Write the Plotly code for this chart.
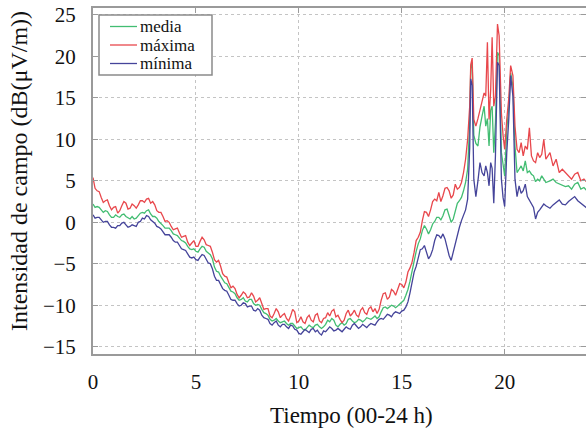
import plotly.graph_objects as go

hours = [0.0, 0.1, 0.2, 0.3, 0.4, 0.5, 0.6, 0.7, 0.8, 0.9,
         1.0, 1.1, 1.2, 1.3, 1.4, 1.5, 1.6, 1.7, 1.8, 1.9,
         2.0, 2.1, 2.2, 2.3, 2.4, 2.5, 2.6, 2.7, 2.8, 2.9,
         3.0, 3.1, 3.2, 3.3, 3.4, 3.5, 3.6, 3.7, 3.8, 3.9,
         4.0, 4.1, 4.2, 4.3, 4.4, 4.5, 4.6, 4.7, 4.8, 4.9,
         5.0, 5.1, 5.2, 5.3, 5.4, 5.5, 5.6, 5.7, 5.8, 5.9,
         6.0, 6.1, 6.2, 6.3, 6.4, 6.5, 6.6, 6.7, 6.8, 6.9,
         7.0, 7.1, 7.2, 7.3, 7.4, 7.5, 7.6, 7.7, 7.8, 7.9,
         8.0, 8.1, 8.2, 8.3, 8.4, 8.5, 8.6, 8.7, 8.8, 8.9,
         9.0, 9.1, 9.2, 9.3, 9.4, 9.5, 9.6, 9.7, 9.8, 9.9,
         10.0, 10.1, 10.2, 10.3, 10.4, 10.5, 10.6, 10.7, 10.8, 10.9,
         11.0, 11.1, 11.2, 11.3, 11.4, 11.5, 11.6, 11.7, 11.8, 11.9,
         12.0, 12.1, 12.2, 12.3, 12.4, 12.5, 12.6, 12.7, 12.8, 12.9,
         13.0, 13.1, 13.2, 13.3, 13.4, 13.5, 13.6, 13.7, 13.8, 13.9,
         14.0, 14.1, 14.2, 14.3, 14.4, 14.5, 14.6, 14.7, 14.8, 14.9,
         15.0, 15.1, 15.2, 15.3, 15.4, 15.5, 15.6, 15.7, 15.8, 15.9,
         16.0, 16.1, 16.2, 16.3, 16.4, 16.5, 16.6, 16.7, 16.8, 16.9,
         17.0, 17.1, 17.2, 17.3, 17.4, 17.5, 17.6, 17.7, 17.8, 17.9,
         18.0, 18.1, 18.2, 18.3, 18.35, 18.42, 18.5, 18.6, 18.7, 18.8, 18.9, 19.0, 19.08,
         19.16, 19.24, 19.32, 19.39, 19.47, 19.55, 19.65, 19.73, 19.84, 19.92, 20.0, 20.1,
         20.2, 20.29, 20.4, 20.5, 20.6, 20.7, 20.8, 20.9, 21.0,
         21.1, 21.2, 21.3, 21.4, 21.5, 21.6, 21.7, 21.8, 21.9, 22.0, 22.2, 22.35, 22.5,
         22.65, 22.8, 22.95, 23.1, 23.25, 23.4, 23.55, 23.7, 23.85, 24.0]

maxima = [5.4, 4.1, 3.8, 3.7, 3.0, 2.4, 2.6, 2.7, 2.0, 1.5,
          1.8, 1.9, 1.1, 1.4, 2.0, 2.5, 2.3, 1.6, 1.7, 2.2,
          2.0, 1.7, 2.1, 2.6, 2.6, 2.4, 2.8, 2.9, 2.3, 2.5,
          2.1, 1.4, 1.2, 1.2, 0.7, 0.1, 0.2, 0.0, -0.5, -0.9,
          -0.8, -0.7, -1.3, -1.8, -1.7, -1.6, -2.4, -2.8, -2.5, -2.2,
          -2.9, -2.9, -2.3, -1.8, -2.1, -2.7, -2.8, -2.9, -3.6, -4.5,
          -4.8, -4.6, -5.3, -6.2, -6.5, -6.6, -7.3, -7.9, -7.7, -8.0,
          -8.7, -9.1, -8.8, -8.4, -8.6, -9.1, -9.0, -8.5, -8.9, -9.6,
          -9.4, -9.1, -9.8, -10.5, -10.4, -10.4, -11.3, -11.5, -11.0, -10.4,
          -10.8, -11.5, -11.2, -11.0, -11.6, -11.9, -11.3, -10.5, -10.8, -12.1,
          -11.9, -11.4, -12.0, -12.2, -11.5, -11.2, -11.8, -12.0, -11.2, -11.0,
          -11.9, -12.1, -11.6, -11.5, -10.9, -11.3, -10.7, -10.5, -11.4, -11.2,
          -11.7, -12.1, -11.8, -11.0, -10.6, -11.3, -11.0, -10.6, -11.2, -11.4,
          -10.6, -10.3, -10.9, -11.1, -10.4, -10.2, -10.8, -10.4, -11.0, -10.5,
          -9.4, -8.6, -8.5, -9.3, -9.0, -8.1, -8.3, -8.8, -8.1, -7.4,
          -7.5, -7.9, -7.2, -6.0, -5.5, -4.8, -3.6, -2.2, -1.8, -1.2,
          0.2, 1.3, 1.2, 0.7, 1.5, 2.5, 2.8, 2.6, 3.6, 2.5,
          3.2, 4.1, 4.2, 3.8, 2.9, 3.3, 4.6, 4.0, 4.2, 4.8,
          6.0, 7.6, 10.0, 14.0, 19.0, 19.8, 12.4, 11.6, 12.5, 13.6, 14.5, 15.6, 15.2,
          21.7, 12.4, 16.0, 22.3, 14.0, 15.2, 23.9, 22.5, 13.2, 10.5, 8.8, 12.4,
          15.0, 18.9, 17.7, 11.6, 8.8, 8.4, 9.6, 8.0, 9.2,
          8.8, 11.4, 8.0, 7.4, 7.2, 8.4, 7.8, 8.2, 10.0, 7.6, 8.4, 6.8, 7.6,
          6.0, 6.4, 6.0, 5.6, 5.2, 5.8, 6.0, 5.0, 5.2, 4.8]

media = [2.2, 1.8, 1.9, 1.8, 1.5, 1.2, 1.4, 1.3, 0.9, 0.6,
         0.6, 0.9, 0.7, 0.6, 0.9, 1.0, 0.7, 0.5, 0.4, 0.7,
         0.4, 0.5, 0.8, 1.1, 1.2, 1.1, 1.4, 1.5, 1.0, 0.7,
         0.7, 0.5, 0.1, -0.1, -0.4, -0.7, -0.7, -0.7, -1.0, -1.4,
         -1.5, -1.6, -1.9, -2.2, -2.3, -2.5, -2.9, -3.2, -3.3, -3.2,
         -3.5, -3.6, -3.2, -2.9, -3.0, -3.5, -3.7, -3.9, -4.4, -5.4,
         -5.9, -6.0, -6.5, -7.0, -7.3, -7.4, -7.9, -8.3, -8.4, -8.6,
         -9.1, -9.4, -9.3, -9.1, -9.5, -9.6, -9.3, -9.3, -9.8, -10.0,
         -9.9, -10.0, -10.5, -10.9, -11.0, -11.2, -11.7, -11.9, -11.8, -11.6,
         -11.9, -12.1, -12.0, -11.9, -12.2, -12.4, -12.2, -12.2, -12.5, -12.8,
         -12.7, -12.6, -12.9, -13.0, -12.7, -12.4, -12.6, -12.7, -12.4, -12.3,
         -12.6, -12.8, -12.6, -12.3, -11.8, -12.0, -11.6, -11.8, -12.4, -12.6,
         -12.3, -12.1, -12.4, -12.2, -11.7, -11.6, -11.9, -12.1, -12.0, -11.7,
         -11.8, -12.0, -11.8, -11.5, -11.6, -11.7, -11.5, -11.3, -11.6, -11.4,
         -10.8, -10.3, -10.2, -10.4, -10.2, -10.0, -10.1, -10.3, -10.1, -9.9,
         -9.6, -9.4, -8.8, -8.1, -7.1, -5.8, -4.8, -3.5, -2.6, -2.0,
         -1.0, -0.4, -0.8, -1.4, -0.9, -0.2, 0.1, 0.6, 0.6, 0.3,
         0.8, 1.5, 1.6, 0.9, 0.0, 0.4, 1.5, 2.3, 2.6, 3.0,
         3.8, 4.8, 6.4, 12.0, 18.5, 19.3, 10.5, 9.5, 9.2, 11.5, 12.8, 14.0, 11.6,
         12.5, 9.2, 13.5, 14.0, 8.4, 12.0, 20.5, 20.1, 8.4, 7.0, 5.6, 11.2,
         14.0, 18.0, 16.5, 9.2, 6.0, 6.4, 6.8, 6.2, 7.4,
         6.0, 6.2, 5.8, 5.6, 4.9, 5.2, 5.0, 5.6, 5.2, 4.8, 5.0, 5.2, 4.8,
         4.6, 4.4, 4.3, 4.4, 4.0, 4.6, 4.8, 4.0, 4.2, 3.8]

minima = [0.9, 0.5, 0.6, 0.6, 0.3, 0.0, 0.1, 0.1, -0.3, -0.6,
          -0.6, -0.7, -0.4, -0.4, -0.1, 0.0, -0.3, -0.6, -0.5, -0.3,
          -0.4, -0.5, 0.0, 0.1, 0.5, 0.4, 0.8, 0.7, 0.3, 0.1,
          -0.1, -0.5, -0.6, -0.8, -1.2, -1.5, -1.5, -1.5, -1.8, -2.2,
          -2.4, -2.4, -2.8, -3.2, -3.3, -3.4, -3.8, -4.2, -4.3, -4.2,
          -4.5, -4.6, -4.2, -3.9, -4.0, -4.5, -4.9, -5.0, -5.6, -6.5,
          -7.0, -7.0, -7.5, -8.0, -8.2, -8.3, -8.8, -9.3, -9.4, -9.4,
          -9.8, -10.1, -10.0, -9.7, -9.8, -10.2, -10.1, -10.1, -10.6, -10.7,
          -10.4, -10.6, -11.2, -11.5, -11.6, -11.7, -12.2, -12.4, -12.1, -11.9,
          -12.4, -12.6, -12.3, -12.3, -12.6, -12.8, -12.4, -12.5, -12.9, -13.0,
          -13.4, -13.5, -13.2, -12.9, -13.1, -13.3, -12.9, -12.8, -13.2, -13.0,
          -13.4, -13.6, -13.1, -13.2, -12.9, -12.6, -12.8, -13.1, -13.0, -12.8,
          -13.0, -13.2, -12.9, -12.6, -12.8, -12.9, -12.4, -12.2, -12.5, -12.8,
          -12.6, -12.3, -12.5, -12.7, -12.4, -12.2, -12.3, -12.4, -12.0, -11.7,
          -11.6, -11.7, -11.4, -11.1, -11.2, -11.4, -11.0, -10.8, -10.9, -11.0,
          -10.7, -10.6, -10.2, -9.6, -8.5, -7.0, -6.0, -5.3, -4.1, -3.3,
          -3.2, -2.8, -3.6, -4.4, -4.0, -3.3, -2.2, -1.5, -1.6, -1.9,
          -1.4, -2.0, -3.0, -4.0, -4.6, -3.6, -2.5, -1.4, -0.6, 0.2,
          1.0, 1.5, 2.8, 9.0, 17.3, 16.5, 5.2, 3.1, 5.0, 7.2, 6.0, 5.6, 6.8,
          6.0, 4.4, 7.2, 6.5, 2.3, 8.0, 19.3, 18.9, 5.2, 3.0, 1.9, 8.4,
          12.5, 17.7, 15.2, 5.2, 3.1, 4.4, 3.5, 3.8, 4.6,
          3.1, 2.6, 2.3, 1.8, 0.4, 1.2, 1.5, 1.9, 2.2, 2.0, 1.7, 2.1, 2.4,
          2.7, 2.2, 2.1, 2.5, 2.8, 3.1, 2.6, 2.3, 2.0, 1.7]

series_names = ["media", "máxima", "mínima"]
series_colors = ["#42bd72", "#e8474c", "#45449a"]
x_ticks = [0, 5, 10, 15, 20]
y_ticks = [-15, -10, -5, 0, 5, 10, 15, 20, 25]

FONT = "Liberation Serif"

# page coordinates (body margin removed below)
W, H = 586, 436
L, R, T, B = 93, 586, 8, 354
PW, PH = R - L, B - T


def px(xp):
    return (xp - L) / PW


def py(yp):
    return (B - yp) / PH


fig = go.Figure()
for name, vals, col in zip(series_names, [media, maxima, minima], series_colors):
    fig.add_trace(go.Scatter(x=hours, y=vals, mode="lines", name=name,
                             line=dict(color=col, width=1.3), showlegend=False))

axis_common = dict(
    automargin=False,
    showline=True, linecolor="#9a9a9a", linewidth=2, mirror="ticks",
    ticks="inside", ticklen=5, tickcolor="#9a9a9a", tickwidth=1,
    showgrid=True, gridcolor="#c4c4c4", griddash="dot", gridwidth=1,
    zeroline=False, tickfont=dict(family=FONT, size=21, color="#111"),
)

# legend: box, sample lines and labels
shapes = [dict(type="rect", xref="paper", yref="paper",
               x0=px(99), x1=px(212), y0=py(75), y1=py(15),
               line=dict(color="#8a8a8a", width=1.5), fillcolor="white", layer="above")]
annotations = []
row_y = [26.5, 45, 63.5]
for name, col, ry in zip(series_names, series_colors, row_y):
    shapes.append(dict(type="line", xref="paper", yref="paper",
                       x0=px(110), x1=px(137), y0=py(ry), y1=py(ry),
                       line=dict(color=col, width=1.3), layer="above"))
    annotations.append(dict(text=name, xref="paper", yref="paper",
                            x=px(138), y=py(ry), xanchor="left", yanchor="middle",
                            showarrow=False, height=18,
                            font=dict(family=FONT, size=17, color="#111")))

annotations += [
    dict(text="Tiempo (00-24 h)", xref="paper", yref="paper", x=px(351.5), y=py(415.5),
         xanchor="center", yanchor="middle", showarrow=False,
         font=dict(family=FONT, size=23, color="#111")),
    dict(text="Intensidad de campo (dB(μV/m))", xref="paper", yref="paper",
         x=px(19), y=py(171), xanchor="center", yanchor="middle",
         textangle=-90, showarrow=False,
         font=dict(family=FONT, size=24, color="#111")),
]

fig.update_layout(
    width=W, height=H,
    margin=dict(l=L, r=W - R, t=T, b=H - B, autoexpand=False),
    plot_bgcolor="white", paper_bgcolor="white",
    font=dict(family=FONT, color="#111"),
    xaxis=dict(range=[0, 23.95], tickvals=x_ticks, ticklabelstandoff=8, **axis_common),
    yaxis=dict(range=[-15.88, 25.84], tickvals=y_ticks, ticklabelstandoff=11, **axis_common),
    showlegend=False,
    shapes=shapes,
    annotations=annotations,
)

fig.write_html("out.html",
               config={"displayModeBar": False},
               post_script="document.body.style.margin='0';document.body.style.overflow='hidden';")
